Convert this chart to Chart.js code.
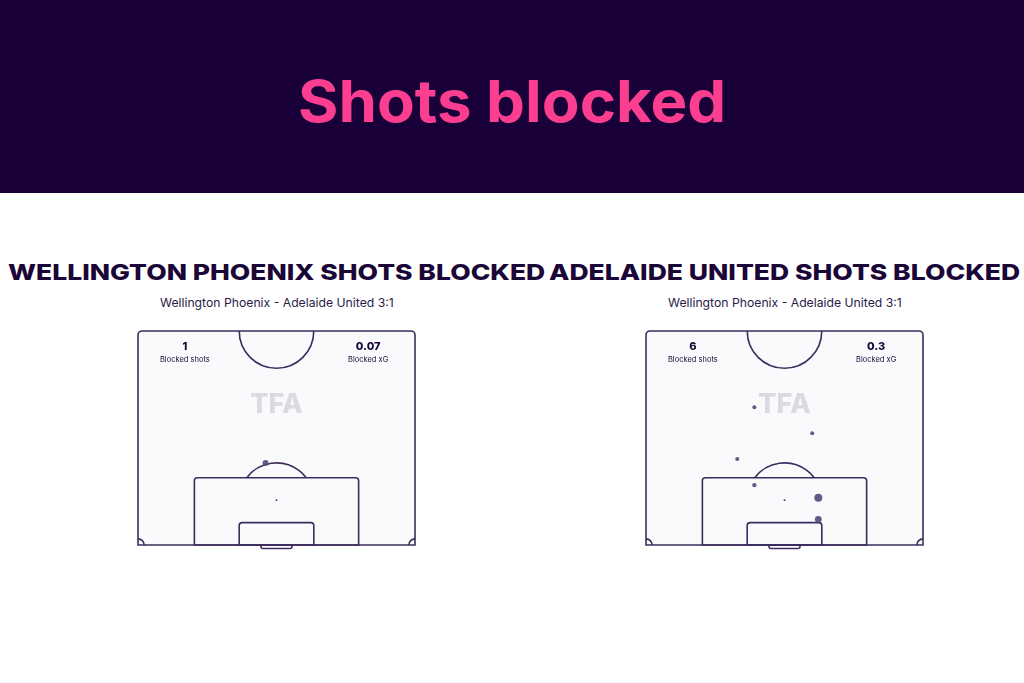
<!DOCTYPE html>
<html>
<head>
<meta charset="utf-8">
<script src="https://cdn.jsdelivr.net/npm/chart.js@4.4.1/dist/chart.umd.min.js"></script>
<style>
  html, body { margin: 0; padding: 0; background: #fff; }
  #page { position: relative; width: 1024px; height: 683px; overflow: hidden; font-family: "Inter", "Liberation Sans", sans-serif; }
  #banner { position: absolute; left: 0; top: 0; width: 1024px; height: 193px; background: #190039; }
  .fit { position: absolute; white-space: nowrap; transform-origin: 0 0; line-height: 1; }
  #mainTitle { color: #fc3e90; font-weight: 700; font-size: 58px; }
  .ttl { color: #1a0738; font-weight: 800; font-size: 22px; }
  .sub { color: #2a1a48; font-size: 12px; }
  .wrap { position: absolute; top: 321px; width: 297px; height: 238px; }
</style>
</head>
<body>
<div id="page">
  <div id="banner"></div>
  <div class="fit" id="mainTitle" data-cx="512" data-cy="101" data-w="428">Shots blocked</div>
  <div class="fit ttl" data-cx="276.5" data-cy="272" data-w="537">WELLINGTON PHOENIX SHOTS BLOCKED</div>
  <div class="fit ttl" data-cx="784.5" data-cy="272" data-w="471">ADELAIDE UNITED SHOTS BLOCKED</div>
  <div class="fit sub" data-cx="276.5" data-cy="303" data-w="234">Wellington Phoenix - Adelaide United 3:1</div>
  <div class="fit sub" data-cx="784.5" data-cy="303" data-w="234">Wellington Phoenix - Adelaide United 3:1</div>
  <div class="wrap" style="left:128px"><canvas id="pitchLeft"></canvas></div>
  <div class="wrap" style="left:636px"><canvas id="pitchRight"></canvas></div>
</div>
<script>
// shot positions in metres: x across the pitch (0-68), y from goal line (0-52.5)
const wellingtonX = [31.3];
const wellingtonY = [20.1];
const wellingtonXg = [0.07];

const adelaideX = [26.6, 40.8, 22.4, 26.6, 42.3, 42.3];
const adelaideY = [33.8, 27.4, 21.1, 14.7, 11.6, 6.3];
const adelaideXg = [0.02, 0.02, 0.02, 0.03, 0.12, 0.09];

const wellingtonStats = ['1', '0.07'];
const adelaideStats = ['6', '0.3'];
const statLabels = ['Blocked shots', 'Blocked xG'];

// stretch texts to the widths they have in the picture
document.querySelectorAll('.fit').forEach(el => {
    const w = el.offsetWidth, h = el.offsetHeight;
    const sx = parseFloat(el.dataset.w) / w;
    el.style.left = (parseFloat(el.dataset.cx) - parseFloat(el.dataset.w) / 2) + 'px';
    el.style.top = (parseFloat(el.dataset.cy) - h / 2) + 'px';
    el.style.transform = 'scaleX(' + sx + ')';
});

const lineColor = '#3d2d5f';

const pitchPlugin = {
    id: 'pitch',
    beforeDatasetsDraw(chart, args, opts) {
        const ctx = chart.ctx;
        const sx = chart.scales.x, sy = chart.scales.y;
        const px = v => sx.getPixelForValue(v);
        const py = v => sy.getPixelForValue(v);
        const k = px(1) - px(0);
        ctx.save();
        // pitch fill
        ctx.fillStyle = '#f9fafb';
        ctx.beginPath();
        ctx.roundRect(px(0), py(52.5), px(68) - px(0), py(0) - py(52.5), [4, 4, 0, 0]);
        ctx.fill();

        // watermark
        ctx.fillStyle = '#dcd9e3';
        ctx.font = '800 27px "Inter", "Liberation Sans", sans-serif';
        ctx.textAlign = 'center';
        ctx.textBaseline = 'middle';
        ctx.fillText('TFA', px(34), py(34.4));

        ctx.strokeStyle = lineColor;
        ctx.lineWidth = 1.6;
        // outline
        ctx.beginPath();
        ctx.roundRect(px(0), py(52.5), px(68) - px(0), py(0) - py(52.5), [4, 4, 0, 0]);
        ctx.stroke();
        // centre circle
        ctx.beginPath();
        ctx.arc(px(34), py(52.5), 9.15 * k, 0, Math.PI);
        ctx.stroke();
        // penalty area
        ctx.beginPath();
        ctx.roundRect(px(13.84), py(16.5), px(54.16) - px(13.84), py(0) - py(16.5), [3, 3, 0, 0]);
        ctx.stroke();
        // six yard box
        ctx.beginPath();
        ctx.roundRect(px(24.84), py(5.5), px(43.16) - px(24.84), py(0) - py(5.5), [3, 3, 0, 0]);
        ctx.stroke();
        // penalty arc
        const r = 9.15 * k;
        const th = Math.asin((py(11) - py(16.5)) / r);
        ctx.beginPath();
        ctx.arc(px(34), py(11), r, Math.PI + th, 2 * Math.PI - th);
        ctx.stroke();
        // goal
        ctx.beginPath();
        ctx.roundRect(px(30.2), py(0), px(37.8) - px(30.2), 3.5, [0, 0, 2, 2]);
        ctx.stroke();
        // corner arcs
        ctx.beginPath();
        ctx.arc(px(0), py(0), 1.5 * k, -Math.PI / 2, 0);
        ctx.stroke();
        ctx.beginPath();
        ctx.arc(px(68), py(0), 1.5 * k, Math.PI, 1.5 * Math.PI);
        ctx.stroke();
        // penalty spot
        ctx.fillStyle = lineColor;
        ctx.beginPath();
        ctx.arc(px(34), py(11), 0.9, 0, 2 * Math.PI);
        ctx.fill();

        // stats
        const stats = opts.stats;
        ctx.fillStyle = '#1a0738';
        [11.5, 56.5].forEach((x, i) => {
            ctx.font = '800 11px "Inter", "Liberation Sans", sans-serif';
            ctx.fillText(stats[i], px(x), py(48.6));
            ctx.font = '7.5px "Inter", "Liberation Sans", sans-serif';
            ctx.fillText(statLabels[i], px(x), py(45.4));
        });
        ctx.restore();
    }
};

function makePitch(id, xs, ys, xg, stats) {
    const pts = xs.map((x, i) => ({ x: x, y: ys[i] }));
    new Chart(document.getElementById(id), {
        type: 'scatter',
        data: {
            datasets: [{
                data: pts,
                backgroundColor: 'rgba(84, 72, 122, 0.9)',
                borderWidth: 0,
                pointRadius: xg.map(v => 1.6 + 20 * v),
                pointHoverRadius: xg.map(v => 1.6 + 20 * v)
            }]
        },
        options: {
            responsive: true,
            maintainAspectRatio: false,
            animation: false,
            layout: { padding: { left: 10, right: 10, top: 10, bottom: 14 } },
            scales: {
                x: { type: 'linear', min: 0, max: 68, display: false },
                y: { type: 'linear', min: 0, max: 52.5, display: false }
            },
            plugins: {
                legend: { display: false },
                tooltip: { enabled: false },
                pitch: { stats: stats }
            }
        },
        plugins: [pitchPlugin]
    });
}

makePitch('pitchLeft', wellingtonX, wellingtonY, wellingtonXg, wellingtonStats);
makePitch('pitchRight', adelaideX, adelaideY, adelaideXg, adelaideStats);
</script>
</body>
</html>
